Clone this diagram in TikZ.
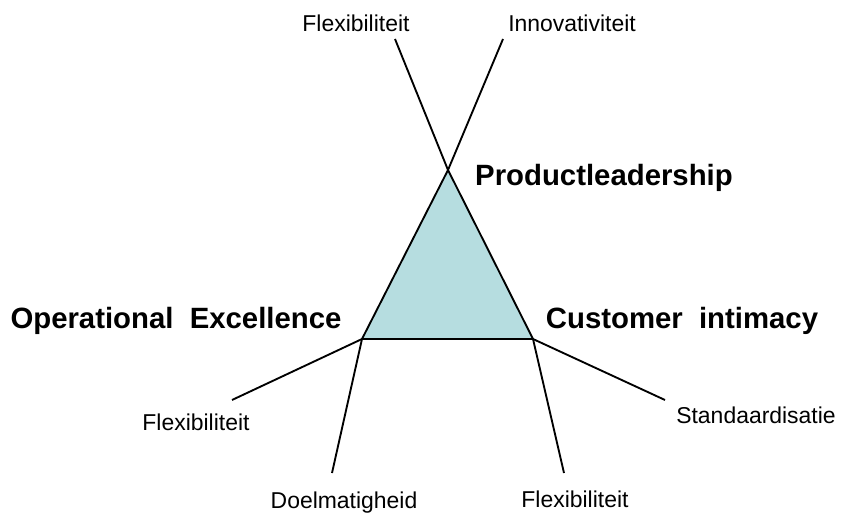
\documentclass[tikz,border=0pt]{standalone}
\usepackage{fontspec}
\setmainfont{Liberation Sans}
\definecolor{triFill}{RGB}{182,221,224}

\begin{document}
\begin{tikzpicture}[x=0.75pt,y=0.75pt,yscale=-1,xscale=1,
		pole/.style={anchor=base,inner sep=0.75pt,font=\bfseries\fontsize{22}{26}\selectfont},
		trait/.style={anchor=base,inner sep=0.75pt,font=\fontsize{17.2}{20}\selectfont},
		spoke/.style={line width=1.4pt}]
		\useasboundingbox (0,0) rectangle (852,513);
		% corners of the triangle
		\coordinate (pl) at (448,170);
		\coordinate (oe) at (362,339);
		\coordinate (ci) at (533,339);
		% free ends of the spokes
		\coordinate (plA) at (395,39);
		\coordinate (plB) at (503,39);
		\coordinate (oeA) at (232,400);
		\coordinate (oeB) at (332,473);
		\coordinate (ciA) at (665,400);
		\coordinate (ciB) at (564,473);
		\draw [spoke,fill=triFill] (pl) -- (oe) -- (ci) -- cycle;
		\draw [spoke] (pl) -- (plA);
		\draw [spoke] (pl) -- (plB);
		\draw [spoke] (oe) -- (oeA);
		\draw [spoke] (oe) -- (oeB);
		\draw [spoke] (ci) -- (ciA);
		\draw [spoke] (ci) -- (ciB);
		\draw (604,186) node [pole] (tPl) {Productleadership};
		\draw (176,328) node [pole] (tOe) {Operational\ \ Excellence};
		\draw (682,328) node [pole] (tCi) {Customer\ \ intimacy};
		\draw (356,32) node [trait] (tPlA) {Flexibiliteit};
		\draw (572,32) node [trait] (tPlB) {Innovativiteit};
		\draw (196,430) node [trait] (tOeA) {Flexibiliteit};
		\draw (344,508) node [trait] (tOeB) {Doelmatigheid};
		\draw (756,423) node [trait] (tCiA) {Standaardisatie};
		\draw (575,507) node [trait] (tCiB) {Flexibiliteit};
\end{tikzpicture}
\end{document}
